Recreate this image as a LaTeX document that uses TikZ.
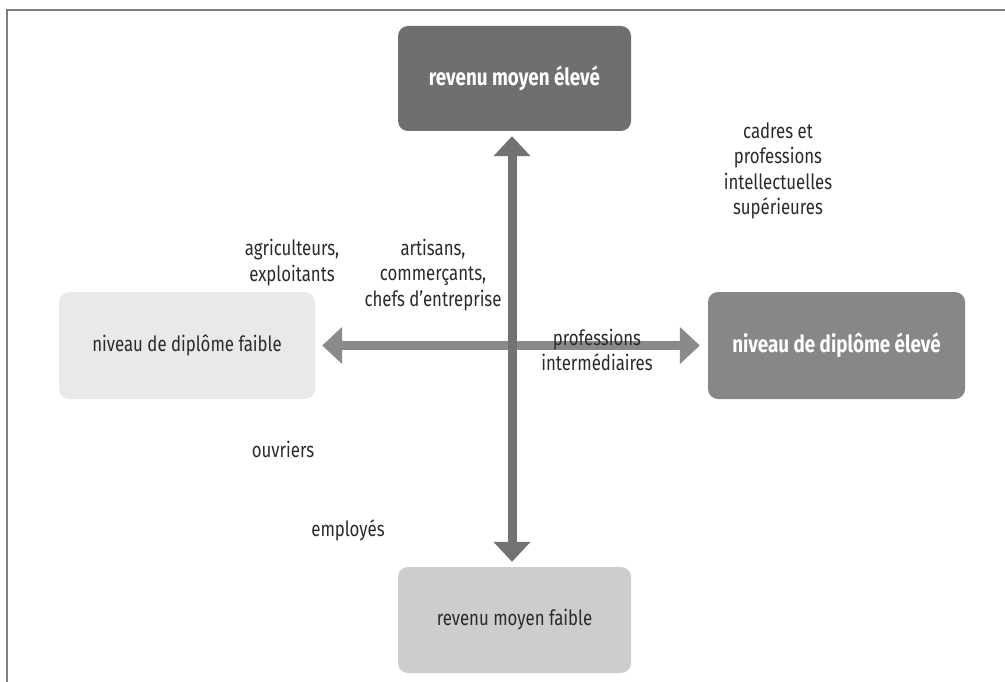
\documentclass[tikz,border=0pt]{standalone}
\usepackage{fontspec}
\setmainfont{Fira Sans}[FakeStretch=0.8]
\usetikzlibrary{arrows.meta}
\definecolor{frameg}{HTML}{7F7F7F}
\definecolor{topg}{HTML}{6F6F6D}
\definecolor{rightg}{HTML}{878787}
\definecolor{leftg}{HTML}{E9E9E9}
\definecolor{botg}{HTML}{CDCDCD}
\definecolor{varrow}{HTML}{727272}
\definecolor{harrow}{HTML}{8A8A8A}
\definecolor{txt}{HTML}{2A2A2A}
\tikzset{
  box/.style={rounded corners=10pt, inner sep=0pt, align=center},
  darkbox/.style={box, text=white, font=\fontsize{23.5}{26}\selectfont\bfseries},
  lightbox/.style={box, text=txt, font=\fontsize{21}{25}\selectfont},
  lbl/.style={inner sep=0pt, align=center, text=txt, font=\fontsize{21}{25.5}\selectfont},
  bigarrow/.style={line width=9pt, {Triangle[length=20pt,width=36pt]}-{Triangle[length=20pt,width=36pt]}},
}
\begin{document}
\begin{tikzpicture}[x=1pt,y=-1pt]
\useasboundingbox (0,0) rectangle (1005,682);
\draw[frameg, line width=2pt] (7,682) -- (7,10.5) -- (1005,10.5);

\node[darkbox, fill=topg, minimum width=233pt, minimum height=105pt] (top) at (514.5,78.5) {revenu moyen élevé};
\node[darkbox, fill=rightg, minimum width=257pt, minimum height=107pt] (right) at (836.5,345.5) {niveau de diplôme élevé};
\node[lightbox, fill=leftg, minimum width=256pt, minimum height=107pt] (left) at (187,345.5) {niveau de diplôme faible};
\node[lightbox, fill=botg, minimum width=233pt, minimum height=106pt] (bottom) at (514.5,620) {revenu moyen faible};

\draw[bigarrow, harrow, shorten <=7pt, shorten >=8pt] (left.east) -- (right.west);
\draw[bigarrow, varrow, shorten <=5pt, shorten >=5pt] ([xshift=-2.5pt]top.south) -- ([xshift=-2.5pt]bottom.north);

\node[lbl] (cadres) at (778,171) {cadres et\\professions\\intellectuelles\\supérieures};
\node[lbl] (agri) at (292,262.5) {agriculteurs,\\exploitants};
\node[lbl] (arti) at (433,275) {artisans,\\commerçants,\\chefs d’entreprise};
\node[lbl] (inter) at (597,350) {professions\\intermédiaires};
\node[lbl] (ouv) at (283,449) {ouvriers};
\node[lbl] (emp) at (348,530) {employés};
\end{tikzpicture}
\end{document}
